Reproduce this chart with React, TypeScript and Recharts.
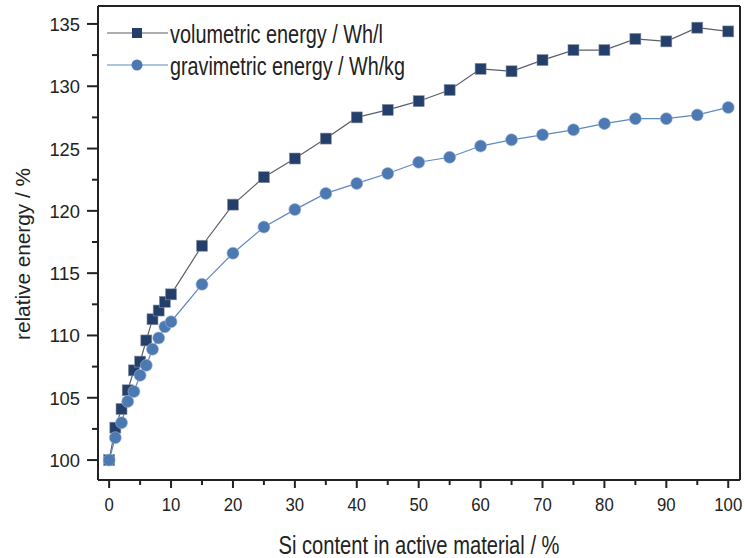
import { LineChart, Line, XAxis, YAxis, ReferenceLine } from "recharts"

const siContent = [0, 1, 2, 3, 4, 5, 6, 7, 8, 9, 10, 15, 20, 25, 30, 35, 40, 45, 50, 55, 60, 65, 70, 75, 80, 85, 90, 95, 100]
const volumetric = [
  100, 102.6, 104.1, 105.6, 107.2, 107.9, 109.6, 111.3, 112.0, 112.7, 113.3, 117.2, 120.5, 122.7, 124.2, 125.8, 127.5,
  128.1, 128.8, 129.7, 131.4, 131.2, 132.1, 132.9, 132.9, 133.8, 133.6, 134.7, 134.4,
]
const gravimetric = [
  100, 101.8, 103.0, 104.7, 105.5, 106.8, 107.6, 108.9, 109.8, 110.7, 111.1, 114.1, 116.6, 118.7, 120.1, 121.4, 122.2,
  123.0, 123.9, 124.3, 125.2, 125.7, 126.1, 126.5, 127.0, 127.4, 127.4, 127.7, 128.3,
]
const xTicks = [0, 5, 10, 15, 20, 25, 30, 35, 40, 45, 50, 55, 60, 65, 70, 75, 80, 85, 90, 95, 100]
const yTicks = [100, 102.5, 105, 107.5, 110, 112.5, 115, 117.5, 120, 122.5, 125, 127.5, 130, 132.5, 135]

const data = siContent.map((x, i) => ({ x, vol: volumetric[i], grav: gravimetric[i] }))

const X_DOMAIN = [-1.8, 101.9]
const Y_DOMAIN = [98.4, 136.44]

const FONT = "'Liberation Sans', Arial, sans-serif"
const INK = "#222"
const VOL_FILL = "#243f69"
const VOL_LINE = "#5a5f6b"
const GRAV_FILL = "#4c79b2"
const GRAV_LINE = "#5d88c0"

// condensed look of the original: squeeze glyphs with textLength
const XTick = (props: any) => {
  const { x, y, payload } = props
  const major = payload.value % 10 === 0
  const label = String(payload.value)
  return (
    <g>
      <line x1={x} x2={x} y1={y} y2={y + (major ? 8 : 5)} stroke={INK} strokeWidth={2} />
      {major && (
        <text
          x={x}
          y={y + 31}
          textAnchor="middle"
          fontFamily={FONT}
          fontSize={19}
          fill={INK}
          textLength={label.length * 9.3}
          lengthAdjust="spacingAndGlyphs"
        >
          {label}
        </text>
      )}
    </g>
  )
}

const YTick = (props: any) => {
  const { x, y, payload } = props
  const major = payload.value % 5 === 0
  const label = String(payload.value)
  return (
    <g>
      <line x1={x} x2={x - (major ? 11 : 6)} y1={y} y2={y} stroke={INK} strokeWidth={2} />
      {major && (
        <text
          x={x - 18}
          y={y + 7}
          textAnchor="end"
          fontFamily={FONT}
          fontSize={19}
          fill={INK}
          textLength={label.length * 10.2}
          lengthAdjust="spacingAndGlyphs"
        >
          {label}
        </text>
      )}
    </g>
  )
}

const SquareDot = (props: any) => {
  const { cx, cy, index } = props
  return <rect key={`sq-${index}`} x={cx - 5.5} y={cy - 5.5} width={11} height={11} fill={VOL_FILL} stroke="#8a93a6" strokeWidth={0.6} />
}

const CircleDot = (props: any) => {
  const { cx, cy, index } = props
  return <circle key={`ci-${index}`} cx={cx} cy={cy} r={6} fill={GRAV_FILL} stroke="#9db4d6" strokeWidth={0.6} />
}

const LegendOverlay = () => (
  <svg width={320} height={90} style={{ position: "absolute", left: 100, top: 0, overflow: "visible" }}>
    <line x1={7} x2={68} y1={33} y2={33} stroke={VOL_LINE} strokeWidth={1.2} />
    <rect x={32} y={28} width={10} height={10} fill={VOL_FILL} />
    <text x={70} y={43} fontFamily={FONT} fontSize={26} fill={INK} textLength={213} lengthAdjust="spacingAndGlyphs">
      volumetric energy / Wh/l
    </text>
    <line x1={7} x2={68} y1={65} y2={65} stroke={GRAV_LINE} strokeWidth={1.2} />
    <circle cx={37} cy={65} r={5.5} fill={GRAV_FILL} />
    <text x={70} y={75} fontFamily={FONT} fontSize={26} fill={INK} textLength={235} lengthAdjust="spacingAndGlyphs">
      gravimetric energy / Wh/kg
    </text>
  </svg>
)

export default function App() {
  return (
    <div style={{ position: "absolute", left: 0, top: 0, width: 745, height: 558, background: "#fff" }}>
      <LineChart width={745} height={558} data={data} margin={{ top: 6, right: 5, left: 0, bottom: 0 }}>
        <XAxis
          dataKey="x"
          type="number"
          domain={X_DOMAIN}
          ticks={xTicks}
          interval={0}
          tickSize={0}
          tickMargin={0}
          tickLine={false}
          tick={<XTick />}
          height={78}
          axisLine={{ stroke: INK, strokeWidth: 2 }}
        />
        <YAxis
          type="number"
          domain={Y_DOMAIN}
          ticks={yTicks}
          interval={0}
          tickSize={0}
          tickMargin={0}
          tickLine={false}
          tick={<YTick />}
          width={98}
          axisLine={{ stroke: INK, strokeWidth: 2 }}
        />
        <ReferenceLine y={Y_DOMAIN[1]} stroke={INK} strokeWidth={2} />
        <ReferenceLine x={X_DOMAIN[1]} stroke={INK} strokeWidth={2} />
        <Line dataKey="vol" stroke={VOL_LINE} strokeWidth={1.2} dot={<SquareDot />} isAnimationActive={false} />
        <Line dataKey="grav" stroke={GRAV_LINE} strokeWidth={1.2} dot={<CircleDot />} isAnimationActive={false} />
        <text
          x={419}
          y={554}
          textAnchor="middle"
          fontFamily={FONT}
          fontSize={25}
          fill={INK}
          textLength={281}
          lengthAdjust="spacingAndGlyphs"
        >
          Si content in active material / %
        </text>
        <text
          x={30}
          y={254}
          transform="rotate(-90 30 254)"
          textAnchor="middle"
          fontFamily={FONT}
          fontSize={21}
          fill={INK}
          textLength={172}
          lengthAdjust="spacingAndGlyphs"
        >
          relative energy / %
        </text>
      </LineChart>
      <LegendOverlay />
    </div>
  )
}
